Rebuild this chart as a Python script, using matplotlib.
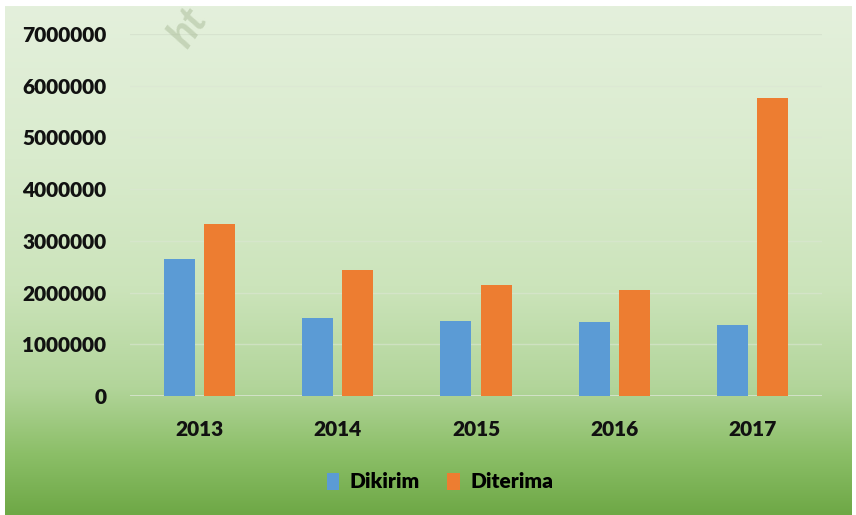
import numpy as np
import matplotlib
matplotlib.use("Agg")
import matplotlib.pyplot as plt
from matplotlib.colors import LinearSegmentedColormap

years = ["2013", "2014", "2015", "2016", "2017"]
dikirim = [2650000, 1510000, 1450000, 1430000, 1370000]
diterima = [3330000, 2440000, 2150000, 2050000, 5760000]
yticks = [0, 1000000, 2000000, 3000000, 4000000, 5000000, 6000000, 7000000]
series_names = ["Dikirim", "Diterima"]

BLUE = "#5B9BD5"
ORANGE = "#ED7D31"

plt.rcParams["font.family"] = ["Lato", "DejaVu Sans"]
plt.rcParams["font.weight"] = "bold"

W, H = 856, 515
fig = plt.figure(figsize=(W / 100, H / 100), dpi=100)
fig.patch.set_facecolor("white")

# vertical green gradient behind the chart
bg = fig.add_axes([5 / W, 0, (852 - 5) / W, (H - 6) / H], zorder=0)
grad_cmap = LinearSegmentedColormap.from_list(
    "bg",
    [(0.0, "#6ea846"), (0.12, "#8cbf68"), (0.25, "#b2d59a"),
     (0.45, "#cce4bb"), (0.7, "#d9ebcd"), (1.0, "#e4f0dc")],
)
g = np.linspace(0, 1, 256).reshape(-1, 1)
bg.imshow(g, cmap=grad_cmap, aspect="auto", origin="lower", extent=[0, 1, 0, 1])
bg.set_axis_off()

# faded watermark
fig.text(162 / W, (H - 54) / H, "ht", rotation=55, fontsize=30,
         color="#a9bb98", alpha=0.5, ha="left", va="bottom",
         fontweight="bold", fontstyle="italic")

ax = fig.add_axes([130 / W, (H - 396) / H, 692 / W, (396 - 34) / H], zorder=2)
ax.patch.set_alpha(0)

x = np.arange(len(years))
bw = 0.224
ax.bar(x - 0.145, dikirim, bw, color=BLUE, label=series_names[0], zorder=3)
ax.bar(x + 0.145, diterima, bw, color=ORANGE, label=series_names[1], zorder=3)

ax.set_xlim(-0.5, len(years) - 0.5)
ax.set_ylim(0, 7000000)
ax.set_yticks(yticks)
ax.set_yticklabels([str(v) for v in yticks])
ax.set_xticks(x)
ax.set_xticklabels(years)
ax.tick_params(axis="both", length=0, labelsize=15, colors="#111111")
ax.tick_params(axis="y", pad=17)
ax.tick_params(axis="x", pad=17)
for lbl in ax.get_xticklabels() + ax.get_yticklabels():
    lbl.set_fontweight("heavy")

ax.grid(axis="y", color="#dbe6d3", linewidth=1.0, alpha=0.6, zorder=0)
for s in ax.spines.values():
    s.set_visible(False)
ax.axhline(7000000, color="#d3dfca", linewidth=1.5, zorder=1)
ax.axhline(0, color="#d8e4cf", linewidth=1.2, zorder=2)

handles, labels = ax.get_legend_handles_labels()
leg = fig.legend(handles, labels, loc="center", bbox_to_anchor=(440 / W, (H - 482) / H),
                 ncol=2, frameon=False, handlelength=0.6, handleheight=0.9,
                 handletextpad=0.5, columnspacing=1.3,
                 prop={"weight": "heavy", "size": 15})

fig.savefig("out.png", dpi=100)
